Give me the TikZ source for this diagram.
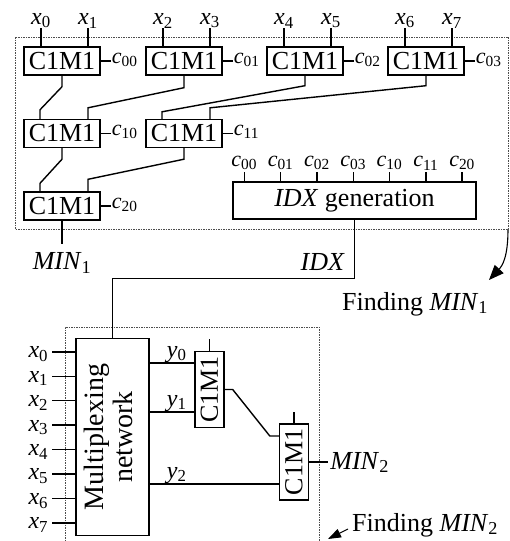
\documentclass[tikz,border=0pt]{standalone}
\usepackage{fontspec}
\setmainfont{Liberation Serif}
\usetikzlibrary{calc,arrows.meta}
\newcommand\vsub[2]{\textit{#1}\textsubscript{#2}}
\begin{document}
\begin{tikzpicture}[x=1pt,y=-1pt,
  wire/.style={line width=1.4pt},
  blk/.style={draw,line width=1.4pt,inner sep=0pt,font=\fontsize{26}{28}\selectfont},
  cmbox/.style={blk,minimum width=76,minimum height=28},
  cmvbox/.style={blk,minimum width=29,minimum height=76},
  lbl/.style={inner sep=0pt,font=\fontsize{24}{26}\selectfont},
  clbl/.style={inner sep=0pt,font=\fontsize{22}{24}\selectfont},
  big/.style={inner sep=0pt,font=\fontsize{26}{28}\selectfont},
  dashframe/.style={line width=0.9pt,gray!60!black,dash pattern=on 1.5pt off 1pt}]
\useasboundingbox (0,0) rectangle (510,541);
% frames
\draw[dashframe] (15,37) rectangle (508,229);
\draw[dashframe] (65,541) -- (65,327) -- (319,327) -- (319,541);
% comparator tree
\node[cmbox] (t0) at (62,61) {C1M1};
\node[cmbox] (t1) at (184,61) {C1M1};
\node[cmbox] (t2) at (305,61) {C1M1};
\node[cmbox] (t3) at (426,61) {C1M1};
\node[cmbox] (m0) at (62,133.5) {C1M1};
\node[cmbox] (m1) at (184,133.5) {C1M1};
\node[cmbox] (b0) at (62,206) {C1M1};
% inputs
\foreach \b/\i/\j in {t0/0/1,t1/2/3,t2/4/5,t3/6/7}{
  \draw[wire] ($(\b.north)+(-21,0)$) -- ++(0,-18) coordinate (xa\i);
  \node[lbl,anchor=south] (xt\i) at (xa\i) {\vsub{x}{\i}};
  \draw[wire] ($(\b.north)+(26,0)$) -- ++(0,-18) coordinate (xa\j);
  \node[lbl,anchor=south] (xt\j) at (xa\j) {\vsub{x}{\j}};
}
% c outputs
\foreach \b/\l in {t0/00,t1/01,t2/02,t3/03,m0/10,m1/11,b0/20}{
  \draw[wire] (\b.east) -- ++(10,0) coordinate (s\b);
  \node[clbl,anchor=base west] (c\b) at ($(s\b)+(1,2)$) {\vsub{c}{\l}};
}
% tree connections
\draw[wire] (t0.south) -- ++(0,11) -- ($(m0.north)+(-22,-9)$) -- ++(0,9);
\draw[wire] (t1.south) -- ++(0,12) -- ($(m0.north)+(26,-11)$) -- ++(0,11);
\draw[wire] (t2.south) -- ++(0,10) -- ($(m1.north)+(-22,-7)$) -- ++(0,7);
\draw[wire] (t3.south) -- ++(0,10) -- ($(m1.north)+(26,-11)$) -- ++(0,11);
\draw[wire] (m0.south) -- ++(0,11) -- ($(b0.north)+(-22,-8)$) -- ++(0,8);
\draw[wire] (m1.south) -- ++(0,11) -- ($(b0.north)+(26,-12)$) -- ++(0,12);
% MIN1
\draw[wire] (b0.south) -- ++(0,23) coordinate (min1);
\node[big,anchor=north] (min1l) at ($(min1)+(0,9)$) {\textit{MIN}\textsubscript{1}};
% IDX generation
\node[blk,minimum width=243,minimum height=37] (idx) at (354.5,200.5) {\textit{IDX} generation};
\foreach \k/\l in {0/00,1/01,2/02,3/03,4/10,5/11,6/20}{
  \draw[wire] ($(idx.north west)+(12+36.3*\k,0)$) -- ++(0,-9) coordinate (ic\k);
  \node[clbl,anchor=south] (icl\k) at ($(ic\k)+(0,-2)$) {\vsub{c}{\l}};
}
% multiplexing network
\node[blk,minimum width=73,minimum height=197,font=\fontsize{28}{29}\selectfont] (mux) at (112.5,437)
  {\rotatebox{90}{\begin{tabular}{@{}c@{}}Multiplexing\\network\end{tabular}}};
\draw[wire] (idx.south) -- ++(0,59) -| (mux.north);
\node[big,anchor=base east] (idxl) at (345,270) {\textit{IDX}};
\node[big,anchor=base west] (f1) at (342,310) {Finding \textit{MIN}\textsubscript{1}};
\draw[line width=1.1pt,-{Triangle[length=15pt,width=12pt]}] (508,229) .. controls (508,258) and (502,266) .. (489,280);
\foreach \i in {0,...,7}{
  \draw[wire] ($(mux.north west)+(0,14+24.43*\i)$) -- ++(-23,0) coordinate (xi\i);
  \node[lbl,anchor=base east] (xl\i) at ($(xi\i)+(-4,6)$) {\vsub{x}{\i}};
}
% second stage comparators
\node[cmvbox] (v0) at (209.5,389.5) {\rotatebox{90}{C1M1}};
\node[cmvbox] (v1) at (294,462) {\rotatebox{90}{C1M1}};
\draw[wire] (v0.north) -- ++(0,-12);
\draw[wire] (v1.north) -- ++(0,-11);
\coordinate (y0in) at ($(v0.west)+(0,-26.5)$);
\coordinate (y1in) at ($(v0.west)+(0,22.5)$);
\coordinate (y2in) at ($(v1.west)+(0,22)$);
\draw[wire] (y0in -| mux.east) -- (y0in);
\draw[wire] (y1in -| mux.east) -- (y1in);
\draw[wire] (y2in -| mux.east) -- (y2in);
\node[lbl,anchor=base] (yl0) at ($(y0in -| mux.east)+(27,-6)$) {\vsub{y}{0}};
\node[lbl,anchor=base] (yl1) at ($(y1in -| mux.east)+(27,-6)$) {\vsub{y}{1}};
\node[lbl,anchor=base] (yl2) at ($(y2in -| mux.east)+(27,-6)$) {\vsub{y}{2}};
\draw[wire] (v0.east) -- ++(8,0) -- ($(v1.west)+(-9,-26)$) -- ++(9,0);
\draw[wire] (v1.east) -- ++(19,0) coordinate (min2);
\node[big,anchor=base west] (min2l) at ($(min2)+(2,7)$) {\textit{MIN}\textsubscript{2}};
\node[big,anchor=base west] (f2) at (352,531) {Finding \textit{MIN}\textsubscript{2}};
\draw[line width=1pt,-{Triangle[length=13pt,width=9pt]}] ($(f2.base west)+(-4,-2)$) -- ++(-20,10);
\end{tikzpicture}
\end{document}
